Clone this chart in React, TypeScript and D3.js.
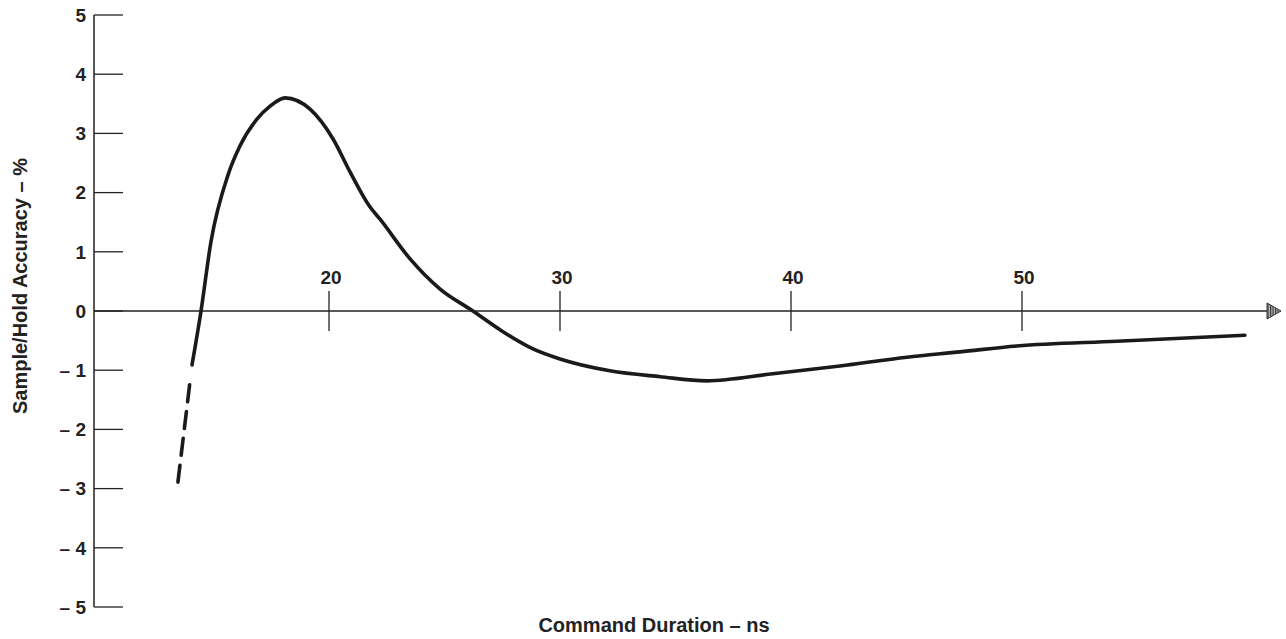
import React, { useEffect, useRef } from "react";
import * as d3 from "d3";

// Command duration (ns) vs sample/hold accuracy (%)
const durationNs: number[] = [
  14.07, 14.46, 14.89, 15.63, 16.15, 16.88, 17.45, 18.1, 19.18, 20.17, 20.91,
  21.77, 22.21, 23.51, 24.81, 26.23, 27.53, 28.83, 30.0, 32.16, 34.33, 36.36,
  39.22, 42.12, 45.02, 47.32, 49.78, 54.11, 59.65,
];
const accuracyPct: number[] = [
  -0.91, 0, 1.17, 2.3, 2.79, 3.24, 3.46, 3.6, 3.41, 2.91, 2.35, 1.76, 1.55,
  0.88, 0.37, 0, -0.35, -0.64, -0.81, -1.01, -1.11, -1.18, -1.06, -0.93, -0.78,
  -0.69, -0.59, -0.51, -0.41,
];
// extrapolated (dashed) part at the start
const dashedNs: number[] = [13.46, 14.07];
const dashedPct: number[] = [-2.89, -0.91];

const xTicks: number[] = [20, 30, 40, 50];
const yTicks: number[] = [5, 4, 3, 2, 1, 0, -1, -2, -3, -4, -5];

const FONT = "'Liberation Sans', Arial, sans-serif";
const INK = "#222";

const App: React.FC = () => {
  const svgRef = useRef<SVGSVGElement>(null);

  useEffect(() => {
    if (!svgRef.current) return;
    const svg = d3.select(svgRef.current);
    svg.selectAll("*").remove();

    const x = d3.scaleLinear().domain([20, 50]).range([329, 1022]);
    const y = d3.scaleLinear().domain([-5, 5]).range([607, 15]);

    const axisX = 94;
    const axisEnd = 1267;

    // arrow hatch pattern
    const defs = svg.append("defs");
    const pat = defs
      .append("pattern")
      .attr("id", "hatch")
      .attr("width", 2.5)
      .attr("height", 4)
      .attr("patternUnits", "userSpaceOnUse");
    pat.append("rect").attr("width", 2.5).attr("height", 4).attr("fill", "#bbb");
    pat.append("rect").attr("width", 1.2).attr("height", 4).attr("fill", "#333");

    // y axis
    svg
      .append("line")
      .attr("x1", axisX)
      .attr("x2", axisX)
      .attr("y1", y(5))
      .attr("y2", y(-5))
      .attr("stroke", INK)
      .attr("stroke-width", 1.5);

    const yt = svg
      .selectAll(".ytick")
      .data(yTicks)
      .enter()
      .append("g")
      .attr("class", "ytick")
      .attr("transform", (d) => `translate(0, ${y(d)})`);
    yt.append("line")
      .attr("x1", axisX)
      .attr("x2", axisX + 29)
      .attr("stroke", INK)
      .attr("stroke-width", 1.3);
    yt.append("text")
      .attr("x", 86)
      .attr("dy", "0.36em")
      .attr("text-anchor", "end")
      .style("font-family", FONT)
      .style("font-weight", "bold")
      .style("font-size", "19px")
      .style("fill", INK)
      .text((d) => (d < 0 ? `\u2013 ${Math.abs(d)}` : `${d}`));

    // x axis
    svg
      .append("line")
      .attr("x1", axisX)
      .attr("x2", axisEnd)
      .attr("y1", y(0))
      .attr("y2", y(0))
      .attr("stroke", INK)
      .attr("stroke-width", 1.5);
    svg
      .append("path")
      .attr(
        "d",
        `M${axisEnd},${y(0) - 8} L${axisEnd + 14},${y(0)} L${axisEnd},${y(0) + 8} Z`
      )
      .attr("fill", "url(#hatch)")
      .attr("stroke", "#333")
      .attr("stroke-width", 1);

    const xt = svg
      .selectAll(".xtick")
      .data(xTicks)
      .enter()
      .append("g")
      .attr("class", "xtick")
      .attr("transform", (d) => `translate(${x(d)}, 0)`);
    xt.append("line")
      .attr("y1", y(0) - 20)
      .attr("y2", y(0) + 20)
      .attr("stroke", INK)
      .attr("stroke-width", 1.3);
    xt.append("text")
      .attr("x", 2)
      .attr("y", y(0) - 27)
      .attr("text-anchor", "middle")
      .style("font-family", FONT)
      .style("font-weight", "bold")
      .style("font-size", "19px")
      .style("fill", INK)
      .text((d) => d);

    // curve
    const line = d3
      .line<number>()
      .x((d) => x(durationNs[d]))
      .y((d) => y(accuracyPct[d]))
      .curve(d3.curveMonotoneX);
    svg
      .append("path")
      .attr("d", line(d3.range(durationNs.length)))
      .attr("fill", "none")
      .attr("stroke", "#1a1a1a")
      .attr("stroke-width", 3.6)
      .attr("stroke-linecap", "round");

    const dashLine = d3
      .line<number>()
      .x((d) => x(dashedNs[d]))
      .y((d) => y(dashedPct[d]));
    svg
      .append("path")
      .attr("d", dashLine([0, 1]))
      .attr("fill", "none")
      .attr("stroke", "#1a1a1a")
      .attr("stroke-width", 3.6)
      .attr("stroke-linecap", "round")
      .attr("stroke-dasharray", "17 10 17 10 17 10 17 30");

    // titles
    svg
      .append("text")
      .attr("x", 654)
      .attr("y", 632)
      .attr("text-anchor", "middle")
      .style("font-family", FONT)
      .style("font-weight", "bold")
      .style("font-size", "20px")
      .style("fill", INK)
      .text("Command Duration \u2013 ns");

    svg
      .append("text")
      .attr("transform", "translate(27, 158) rotate(-90)")
      .attr("text-anchor", "end")
      .style("font-family", FONT)
      .style("font-weight", "bold")
      .style("font-size", "20px")
      .style("fill", INK)
      .text("Sample/Hold Accuracy \u2013 %");
  }, []);

  return (
    <svg
      ref={svgRef}
      width={1286}
      height={639}
      style={{ position: "absolute", left: 0, top: 0, background: "#fff" }}
    />
  );
};

export default App;
